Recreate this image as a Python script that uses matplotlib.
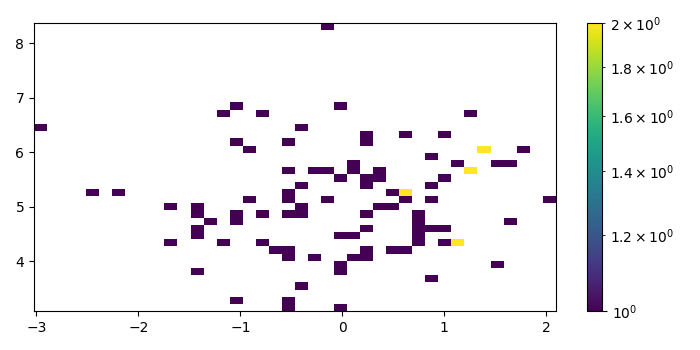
import numpy as np
import matplotlib
matplotlib.use('Agg')
import matplotlib.pyplot as plt
from matplotlib.colors import LogNorm

# occupied bins: column index (0 = left), row index (0 = bottom)
# a bin listed twice holds 2 samples
x_bin = [22,
         15, 23,
         14, 17, 33,
         0, 20,
         25, 28, 31,
         15, 19, 25,
         16, 34, 34, 37,
         30,
         24, 32, 35, 36,
         19, 21, 22, 24, 26, 33, 33,
         23, 25, 26, 31,
         20, 25, 30,
         4, 6, 19, 27, 28, 28,
         16, 19, 22, 28, 30, 39,
         10, 12, 20, 26, 27,
         12, 15, 17, 19, 20, 25, 29,
         13, 15, 29, 36,
         12, 25, 29, 30, 31,
         12, 23, 24, 29,
         10, 14, 17, 29, 31, 32, 32,
         18, 19, 25, 27, 28,
         19, 21, 24, 25,
         23, 35,
         12, 23,
         30,
         20,
         15, 19,
         19, 23]
y_bin = [39,
         28, 28,
         27, 27, 27,
         25, 25,
         24, 24, 24,
         23, 23, 23,
         22, 22, 22, 22,
         21,
         20, 20, 20, 20,
         19, 19, 19, 19, 19, 19, 19,
         18, 18, 18, 18,
         17, 17, 17,
         16, 16, 16, 16, 16, 16,
         15, 15, 15, 15, 15, 15,
         14, 14, 14, 14, 14,
         13, 13, 13, 13, 13, 13, 13,
         12, 12, 12, 12,
         11, 11, 11, 11, 11,
         10, 10, 10, 10,
         9, 9, 9, 9, 9, 9, 9,
         8, 8, 8, 8, 8,
         7, 7, 7, 7,
         6, 6,
         5, 5,
         4,
         3,
         1, 1,
         0, 0]

nbins = 40
x_range = (-3.023, 2.092)
y_range = (3.081, 8.373)

# put one sample in the middle of each listed bin
dx = (x_range[1] - x_range[0]) / nbins
dy = (y_range[1] - y_range[0]) / nbins
x = x_range[0] + (np.array(x_bin) + 0.5) * dx
y = y_range[0] + (np.array(y_bin) + 0.5) * dy

fig = plt.figure(figsize=(7, 3.5), dpi=100)
ax = fig.add_axes([0.0486, 0.111, 0.7453, 0.823])
cax = fig.add_axes([0.8386, 0.111, 0.0214, 0.823])

h = ax.hist2d(x, y, bins=nbins, range=[x_range, y_range], norm=LogNorm())
fig.colorbar(h[3], cax=cax)

plt.savefig('out.png')
